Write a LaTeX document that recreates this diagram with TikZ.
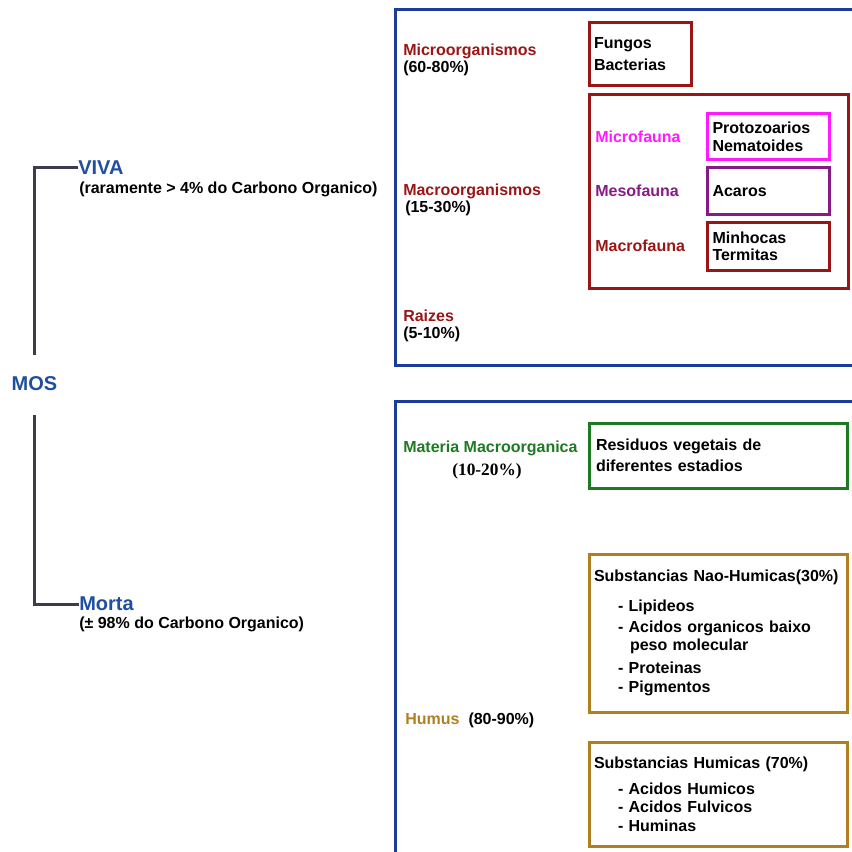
\documentclass[tikz,border=0pt]{standalone}
\usepackage{fontspec}
\setmainfont{Liberation Sans}
\newfontfamily\serifpct{Liberation Serif}
\newdimen\pxu \pxu=0.75pt
\definecolor{mosblue}{HTML}{1F4FA0}
\definecolor{framebl}{HTML}{1C3C9C}
\definecolor{branchgr}{HTML}{3C3C4E}
\definecolor{vivared}{HTML}{9A1616}
\definecolor{microfa}{HTML}{FF1AFF}
\definecolor{mesofa}{HTML}{861A86}
\definecolor{materiagr}{HTML}{1E7A22}
\definecolor{humusgold}{HTML}{B07F22}
\tikzstyle{branch}=[draw=branchgr, line width=3\pxu]
\tikzstyle{frame}=[draw=framebl, line width=3\pxu]
\tikzstyle{tag}=[inner sep=0pt, anchor=west, align=left, font=\bfseries\fontsize{12}{12.75}\selectfont]
\tikzstyle{big}=[inner sep=0pt, text=mosblue, font=\bfseries\fontsize{15}{18}\selectfont]
\tikzstyle{catbox}=[draw, line width=3\pxu, inner xsep=5\pxu, inner ysep=0pt, align=left, font=\bfseries\fontsize{12}{14.25}\selectfont]

\begin{document}
\begin{tikzpicture}[x=0.75pt, y=-0.75pt]
	\useasboundingbox (0,0) rectangle (851,852);

	% MOS and its two branches
	\node[big] (mos) at (34.5,384) {MOS};
	\node[big, anchor=west] (viva) at (78,168) {VIVA};
	\node[tag] (vivanote) at (79,189) {(raramente > 4\% do Carbono Organico)};
	\node[big, anchor=west] (morta) at (79,604) {Morta};
	\node[tag] (mortanote) at (79,624) {(± 98\% do Carbono Organico)};
	\draw[branch, shorten >=16.5pt] (viva.west) -| (mos.north);
	\draw[branch, shorten >=18pt] (morta.west) -| (mos.south);

	% Frames
	\draw[frame] (855,10) -- (395,10) -- (395,365) -- (855,365);
	\draw[frame] (855,401) -- (395,401) -- (395,855);

	% Living fraction
	\node[tag] (micro) at (403,59.5) {\textcolor{vivared}{Microorganismos}\\(60-80\%)};
	\node[tag] (macro) at (403,200) {\textcolor{vivared}{Macroorganismos}\\\hspace*{2\pxu}(15-30\%)};
	\node[tag] (raizes) at (403,326) {\textcolor{vivared}{Raizes}\\(5-10\%)};

	\node[catbox, draw=vivared, text width=92\pxu, minimum height=63\pxu, font=\bfseries\fontsize{12}{16.5}\selectfont] (fungos) at (640,54.5) {Fungos\\Bacterias};
	\node[catbox, draw=vivared, minimum width=259\pxu, minimum height=193\pxu] (fauna) at (718.5,191.5) {};

	\foreach \fauna/\col/\y in {Microfauna/microfa/137, Mesofauna/mesofa/191, Macrofauna/vivared/246}{
		\node[tag, text=\col] (\fauna) at (595,\y) {\fauna};
	}
	\node[catbox, draw=microfa, text width=111\pxu, inner xsep=5.5\pxu, minimum height=46\pxu, font=\bfseries\fontsize{12}{13.5}\selectfont] (proto) at (768,137) {Protozoarios\\Nematoides};
	\node[catbox, draw=mesofa, text width=111\pxu, inner xsep=5.5\pxu, minimum height=47\pxu] (acaros) at (768,191.5) {Acaros};
	\node[catbox, draw=vivared, text width=111\pxu, inner xsep=5.5\pxu, minimum height=47\pxu, font=\bfseries\fontsize{12}{12.75}\selectfont] (minhocas) at (768,246.5) {Minhocas\\Termitas};

	% Dead fraction
	\node[tag, text=materiagr] (materia) at (403,448) {Materia Macroorganica};
	\node[inner sep=0pt, font=\serifpct\bfseries\fontsize{13}{15}\selectfont] (materiapct) at (487,471) {(10-20\%)};
	\node[tag] (humus) at (405,720) {\textcolor{humusgold}{Humus}\hspace{9\pxu}(80-90\%)};

	\node[catbox, draw=materiagr, text width=244\pxu, inner xsep=7\pxu, minimum height=65\pxu, font=\bfseries\fontsize{12}{15.75}\selectfont] (residuos) at (718,455.5) {Residuos vegetais de\\diferentes estadios};
	\node[catbox, draw=humusgold, text width=248\pxu, minimum height=158\pxu] (naohumicas) at (718,633) {Substancias Nao-Humicas(30\%)\\[8.25pt]
		\hspace*{24\pxu}- Lipideos\\[1.5pt]
		\hspace*{24\pxu}- Acidos organicos baixo\\[-0.75pt]
		\hspace*{36\pxu}peso molecular\\[3pt]
		\hspace*{24\pxu}- Proteinas\\
		\hspace*{24\pxu}- Pigmentos};
	\node[catbox, draw=humusgold, text width=248\pxu, minimum height=104\pxu] (humicas) at (718,794) {Substancias Humicas (70\%)\\[5.25pt]
		\hspace*{24\pxu}- Acidos Humicos\\[-0.75pt]
		\hspace*{24\pxu}- Acidos Fulvicos\\
		\hspace*{24\pxu}- Huminas};
\end{tikzpicture}
\end{document}
